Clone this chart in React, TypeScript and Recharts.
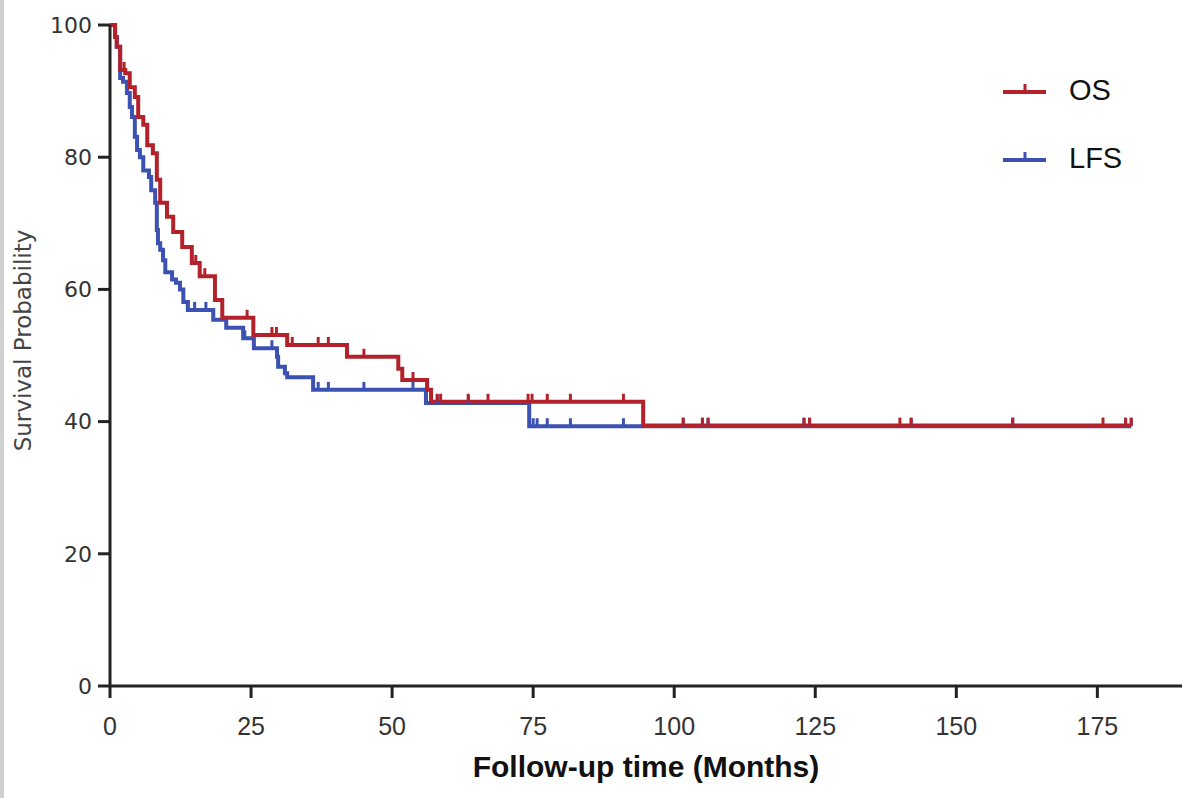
import { Line, LineChart, XAxis, YAxis } from "recharts";

// Kaplan-Meier steps (time in months, survival in %)
const osTime = [0, 0.9, 1.2, 1.8, 2.7, 3.5, 4.4, 5.0, 5.9, 6.6, 7.6, 8.3, 8.9, 10.1, 11.2, 12.8, 14.5, 15.9, 18.6, 19.9, 25.4, 31.4, 42.0, 51.1, 51.8, 56.2, 56.9, 94.5];
const osSurv = [100, 98.2, 96.7, 93.2, 92.7, 90.6, 89.1, 86.1, 84.9, 81.8, 80.6, 76.6, 73.1, 71.0, 68.7, 66.4, 64.0, 62.0, 58.4, 55.7, 53.1, 51.6, 49.8, 48.0, 46.3, 44.8, 43.0, 39.4];
const osCensor = [2.5, 15.2, 16.8, 24.3, 28.7, 29.5, 32.3, 36.9, 38.7, 45.0, 53.7, 58.0, 58.6, 63.5, 67.0, 74.1, 74.8, 77.5, 81.6, 91.0, 101.6, 105.0, 106.0, 123.0, 124.0, 140.0, 142.0, 160.0, 176.0, 180.0, 181.0];

const lfsTime = [0, 0.9, 1.2, 1.8, 2.3, 3.0, 3.5, 3.9, 4.4, 4.8, 5.3, 5.9, 6.9, 7.3, 8.0, 8.3, 8.5, 8.9, 9.4, 9.8, 11.0, 11.7, 12.4, 13.0, 13.8, 18.3, 20.6, 23.6, 25.5, 29.6, 29.8, 31.0, 31.4, 36.0, 56.0, 74.3];
const lfsSurv = [100, 98.2, 96.7, 92.0, 91.4, 89.7, 87.6, 86.1, 83.1, 81.1, 80.0, 78.0, 77.0, 75.0, 73.1, 69.0, 67.0, 66.0, 64.4, 62.6, 61.5, 61.0, 60.0, 58.1, 56.9, 55.4, 54.2, 52.6, 51.1, 49.8, 48.3, 47.3, 46.7, 44.8, 42.8, 39.3];
const lfsCensor = [15.0, 17.0, 23.9, 28.7, 36.9, 38.7, 45.0, 53.7, 58.0, 63.5, 75.0, 75.7, 77.5, 81.6, 91.0, 101.6, 105.0, 106.0, 123.0, 124.0, 142.0, 160.0, 180.0, 181.0];

const xTicks = [0, 25, 50, 75, 100, 125, 150, 175];
const yTicks = [0, 20, 40, 60, 80, 100];

const RED = "#b3222b";
const BLUE = "#3b52b2";

type Pt = { t: number; s: number; c?: boolean };

function buildSeries(times: number[], surv: number[], censor: number[]): Pt[] {
  const pts: Pt[] = times.map((t, i) => ({ t, s: surv[i] }));
  censor.forEach((t) => {
    let s = surv[0];
    times.forEach((st, i) => {
      if (st <= t) s = surv[i];
    });
    pts.push({ t, s, c: true });
  });
  return pts.sort((a, b) => a.t - b.t);
}

const osData = buildSeries(osTime, osSurv, osCensor);
const lfsData = buildSeries(lfsTime, lfsSurv, lfsCensor);

const censorDot = (color: string) => (props: any) => {
  const { cx, cy, payload, index } = props;
  if (!payload || !payload.c) return <g key={index} />;
  return (
    <line key={index} x1={cx} x2={cx} y1={cy} y2={cy - 8} stroke={color} strokeWidth={3} />
  );
};

const legendItems = [
  { name: "OS", color: RED },
  { name: "LFS", color: BLUE },
];

const sans = "'Liberation Sans', Arial, sans-serif";
const dejavu = "'DejaVu Sans', Verdana, sans-serif";

export default function App() {
  return (
    <div style={{ position: "fixed", left: 0, top: 0, width: 1200, height: 798, background: "#fff", overflow: "hidden" }}>
      <div style={{ position: "absolute", left: 0, top: 0, width: 4, height: 798, background: "#d0d0d0" }} />
      <div style={{ position: "absolute", left: 0, top: 0 }}>
        <LineChart width={1200} height={798} margin={{ top: 25, right: 18, left: 10, bottom: 12 }}>
          <XAxis
            dataKey="t"
            type="number"
            domain={[0, 190]}
            ticks={xTicks}
            allowDataOverflow
            stroke="#222"
            strokeWidth={3}
            tickSize={12}
            tickMargin={19}
            height={100}
            tick={{ fill: "#333", fontSize: 25, fontFamily: sans }}
            label={{
              value: "Follow-up time (Months)",
              position: "insideBottom",
              offset: 9,
              fill: "#111",
              fontSize: 30,
              fontWeight: "bold",
              fontFamily: sans,
            }}
          />
          <YAxis
            type="number"
            domain={[0, 100]}
            ticks={yTicks}
            stroke="#222"
            strokeWidth={3}
            tickSize={12}
            tickMargin={6}
            width={100}
            tick={{ fill: "#333", fontSize: 22, fontFamily: dejavu }}
            label={{
              content: (p: any) => {
                const vb = p.viewBox;
                const x = vb.x + 14;
                const y = vb.y + vb.height / 2 - 15;
                return (
                  <text x={x} y={y} transform={`rotate(-90 ${x} ${y})`} textAnchor="middle" dominantBaseline="middle" fill="#444" fontSize={23} fontFamily={dejavu}>
                    Survival Probability
                  </text>
                );
              },
            }}
          />
          <Line data={lfsData} dataKey="s" name="LFS" type="stepAfter" stroke={BLUE} strokeWidth={4} dot={censorDot(BLUE)} activeDot={false} isAnimationActive={false} />
          <Line data={osData} dataKey="s" name="OS" type="stepAfter" stroke={RED} strokeWidth={4} dot={censorDot(RED)} activeDot={false} isAnimationActive={false} />
        </LineChart>
      </div>
      <div style={{ position: "absolute", left: 995, top: 56 }}>
        {legendItems.map((it) => (
          <div key={it.name} style={{ display: "flex", alignItems: "center", height: 68 }}>
            <svg width={60} height={20}>
              <line x1={8} x2={51} y1={12} y2={12} stroke={it.color} strokeWidth={4} />
              <line x1={30} x2={30} y1={12} y2={4} stroke={it.color} strokeWidth={3} />
            </svg>
            <span style={{ marginLeft: 14, fontSize: 29, fontFamily: sans, color: "#111" }}>{it.name}</span>
          </div>
        ))}
      </div>
    </div>
  );
}
